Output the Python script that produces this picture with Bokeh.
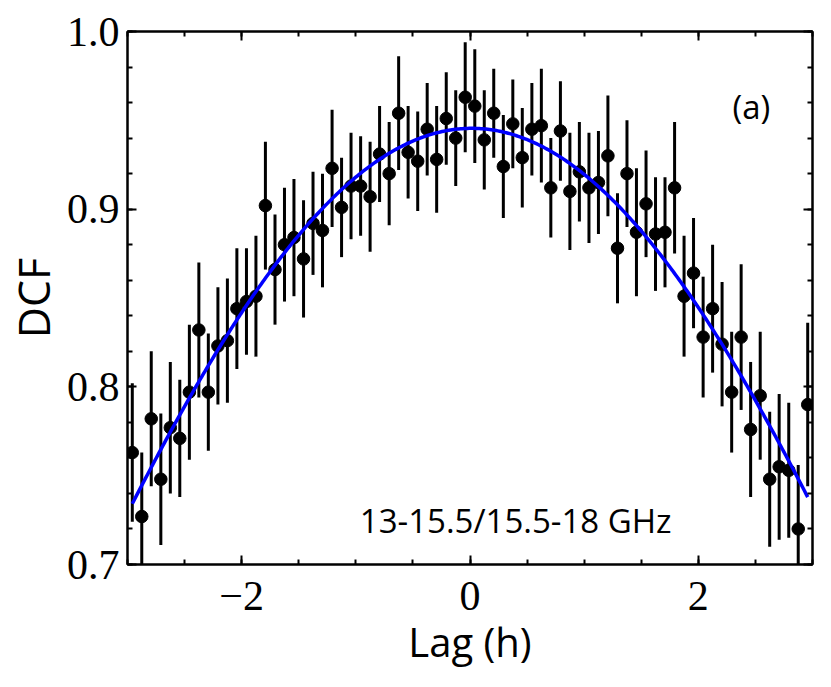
import numpy as np
from bokeh.plotting import figure
from bokeh.models import (FixedTicker, LinearAxis, Range1d, ColumnDataSource,
                          CustomJSTickFormatter, PrintfTickFormatter)
from bokeh.core.properties import value
from bokeh.embed import file_html
from bokeh.resources import INLINE

# ---- data ----
lag = [-2.958, -2.875, -2.792, -2.708, -2.625, -2.542, -2.458, -2.375, -2.292, -2.208,
       -2.125, -2.042, -1.958, -1.875, -1.792, -1.708, -1.625, -1.542, -1.458, -1.375,
       -1.292, -1.208, -1.125, -1.042, -0.958, -0.875, -0.792, -0.708, -0.625, -0.542,
       -0.458, -0.375, -0.292, -0.208, -0.125, -0.042, 0.042, 0.125, 0.208, 0.292,
       0.375, 0.458, 0.542, 0.625, 0.708, 0.792, 0.875, 0.958, 1.042, 1.125,
       1.208, 1.292, 1.375, 1.458, 1.542, 1.625, 1.708, 1.792, 1.875, 1.958,
       2.042, 2.125, 2.208, 2.292, 2.375, 2.458, 2.542, 2.625, 2.708, 2.792,
       2.875, 2.958]
dcf = [0.763, 0.727, 0.782, 0.748, 0.777, 0.771, 0.797, 0.832, 0.797, 0.823,
       0.826, 0.844, 0.848, 0.851, 0.902, 0.866, 0.880, 0.884, 0.872, 0.892,
       0.888, 0.923, 0.901, 0.913, 0.913, 0.907, 0.931, 0.920, 0.954, 0.932,
       0.927, 0.945, 0.928, 0.951, 0.940, 0.963, 0.958, 0.939, 0.954, 0.924,
       0.948, 0.929, 0.945, 0.947, 0.912, 0.944, 0.910, 0.921, 0.912, 0.915,
       0.930, 0.878, 0.920, 0.887, 0.903, 0.886, 0.887, 0.912, 0.851, 0.864,
       0.828, 0.844, 0.824, 0.797, 0.828, 0.776, 0.795, 0.748, 0.755, 0.753,
       0.720, 0.790]
err = [0.039, 0.036, 0.038, 0.037, 0.037, 0.033, 0.038, 0.038, 0.033, 0.033,
       0.035, 0.034, 0.030, 0.034, 0.036, 0.031, 0.032, 0.033, 0.033, 0.029,
       0.032, 0.033, 0.028, 0.030, 0.028, 0.031, 0.027, 0.029, 0.032, 0.026,
       0.028, 0.026, 0.030, 0.026, 0.027, 0.031, 0.032, 0.028, 0.025, 0.029,
       0.025, 0.028, 0.026, 0.032, 0.028, 0.028, 0.033, 0.028, 0.031, 0.029,
       0.034, 0.031, 0.030, 0.036, 0.030, 0.032, 0.031, 0.037, 0.034, 0.031,
       0.034, 0.036, 0.035, 0.034, 0.041, 0.038, 0.036, 0.038, 0.041, 0.038,
       0.036, 0.046]

# Gaussian fit parameters
fit_amp = 0.9455
fit_center = 0.015
fit_sigma = 4.18

x_ticks = [-2, 0, 2]
x_minor = [-3, -2.5, -2, -1.5, -1, -0.5, 0, 0.5, 1, 1.5, 2, 2.5, 3]
y_ticks = [0.7, 0.8, 0.9, 1.0]
y_minor = [0.70, 0.72, 0.74, 0.76, 0.78, 0.80, 0.82, 0.84, 0.86, 0.88, 0.90,
           0.92, 0.94, 0.96, 0.98, 1.00]

x_label = "Lag (h)"
y_label = "DCF"
panel_label = "(a)"
band_label = "13-15.5/15.5-18 GHz"

# ---- build ----
lag_a = np.array(lag)
dcf_a = np.array(dcf)
err_a = np.array(err)
src = ColumnDataSource(dict(x=lag_a, y=dcf_a, lo=dcf_a - err_a, hi=dcf_a + err_a))

xf = np.linspace(lag_a[0], lag_a[-1], 400)
yf = fit_amp * np.exp(-(xf - fit_center) ** 2 / (2 * fit_sigma ** 2))

p = figure(frame_width=685, frame_height=533,
           x_range=Range1d(-3, 3), y_range=Range1d(0.7, 1.0),
           output_backend="svg", toolbar_location=None,
           min_border_left=0, min_border_right=6,
           min_border_top=31, min_border_bottom=0)
p.grid.visible = False
p.outline_line_color = "black"
p.outline_line_width = 2
p.background_fill_color = "white"
p.border_fill_color = "white"

p.segment(x0="x", y0="lo", x1="x", y1="hi", source=src,
          line_color="black", line_width=3)
p.scatter(x="x", y="y", source=src, size=12.5, marker="circle",
          fill_color="black", line_color="black")
p.line(xf, yf, line_color="#0000ff", line_width=3.5)

tick_font = "Liberation Serif"
label_font = "Open Sans"

xt = FixedTicker(ticks=x_ticks, minor_ticks=x_minor)
yt = FixedTicker(ticks=y_ticks, minor_ticks=y_minor)


def style(ax, labels=True):
    ax.axis_line_color = "black"
    ax.axis_line_width = 2
    ax.major_tick_line_width = 2
    ax.minor_tick_line_width = 2
    ax.major_tick_in = 9
    ax.major_tick_out = 0
    ax.minor_tick_in = 5
    ax.minor_tick_out = 0
    if labels:
        ax.major_label_text_font = tick_font
        ax.major_label_text_font_size = "42px"
        ax.major_label_text_color = "black"
        ax.axis_label_text_font = label_font
        ax.axis_label_text_font_size = "40px"
        ax.axis_label_text_font_style = "normal"
        ax.axis_label_text_color = "black"
    else:
        ax.formatter = CustomJSTickFormatter(code="return '';")
        ax.major_label_text_font_size = "1px"
        ax.major_label_standoff = 0


xa = p.xaxis[0]
xa.ticker = xt
xa.formatter = CustomJSTickFormatter(
    code="return tick < 0 ? '\u2212' + Math.abs(tick) : tick.toString();")
xa.axis_label = x_label
style(xa)
xa.major_label_standoff = 17
xa.axis_label_standoff = 1

ya = p.yaxis[0]
ya.ticker = yt
ya.formatter = PrintfTickFormatter(format="%.1f")
ya.axis_label = y_label
style(ya)
ya.axis_label_text_font_size = "43px"
ya.major_label_standoff = 8
ya.axis_label_standoff = 1

top = LinearAxis(ticker=xt)
style(top, labels=False)
p.add_layout(top, "above")
right = LinearAxis(ticker=yt)
style(right, labels=False)
p.add_layout(right, "right")

p.text(x=[2.465], y=[0.958], text=[panel_label], text_font=value(label_font),
       text_font_size="33px", text_align="center", text_baseline="middle",
       text_color="black")
p.text(x=[0.40], y=[0.7249], text=[band_label], text_font=value(label_font),
       text_font_size="33px", text_align="center", text_baseline="alphabetic",
       text_color="black")

open("out.html", "w").write(file_html(p, INLINE))
